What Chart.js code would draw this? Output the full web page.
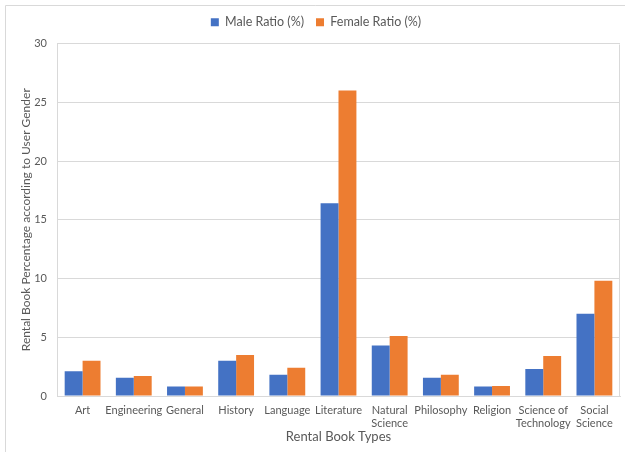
<!DOCTYPE html>
<html>
<head>
<meta charset="utf-8">
<script src="https://cdn.jsdelivr.net/npm/chart.js@4/dist/chart.umd.min.js"></script>
<style>
  html, body { margin: 0; padding: 0; background: #ffffff; }
  #wrap { width: 625px; height: 456px; position: relative; }
</style>
</head>
<body>
<div id="wrap"><canvas id="chart" width="625" height="456"></canvas></div>
<script>
// Book categories (multi-line labels wrap under the axis)
const categories = [
  'Art', 'Engineering', 'General', 'History', 'Language', 'Literature',
  ['Natural', 'Science'], 'Philosophy', 'Religion',
  ['Science of', 'Technology'], ['Social', 'Science']
];

// Share of rentals per category, by user gender (%)
const maleRatio   = [2.1, 1.55, 0.8, 3.0, 1.8, 16.4, 4.3, 1.55, 0.8, 2.3, 7.0];
const femaleRatio = [3.0, 1.7, 0.8, 3.5, 2.4, 26.0, 5.1, 1.8, 0.85, 3.4, 9.8];

// Value axis ticks
const yTicks = [0, 5, 10, 15, 20, 25, 30];

const FONT = 'Lato, "Open Sans", "Liberation Sans", sans-serif';
const TEXT = '#595959';
const GRID = '#d9d9d9';

// Frame lines: outer chart border and the right edge of the plot box
const framePlugin = {
  id: 'frame',
  beforeInit(chart) {
    // leave a little more room between the legend and the plot
    const legend = chart.legend;
    if (legend) {
      const fit = legend.fit;
      legend.fit = function () {
        fit.call(this);
        this.height += 5;
      };
    }
  },
  beforeDraw(chart) {
    const ctx = chart.ctx;
    ctx.save();
    ctx.strokeStyle = GRID;
    ctx.lineWidth = 1;
    ctx.beginPath();
    ctx.moveTo(5.5, 452);
    ctx.lineTo(5.5, 5.5);
    ctx.lineTo(625, 5.5);
    ctx.stroke();
    ctx.restore();
  },
  afterDatasetsDraw(chart) {
    const ctx = chart.ctx;
    const a = chart.chartArea;
    ctx.save();
    ctx.strokeStyle = GRID;
    ctx.lineWidth = 1;
    ctx.beginPath();
    ctx.moveTo(Math.round(a.right) - 0.5, Math.round(a.bottom));
    ctx.lineTo(Math.round(a.right) - 0.5, Math.round(a.top) + 0.5);
    ctx.stroke();
    ctx.restore();
  }
};

new Chart(document.getElementById('chart'), {
  type: 'bar',
  data: {
    labels: categories,
    datasets: [
      { label: 'Male Ratio (%)', data: maleRatio, backgroundColor: '#4472c4', borderWidth: 0 },
      { label: 'Female Ratio (%)', data: femaleRatio, backgroundColor: '#ed7d31', borderWidth: 0 }
    ]
  },
  options: {
    responsive: false,
    animation: false,
    devicePixelRatio: 1,
    layout: { padding: { left: 12, right: 5, top: 4, bottom: 11 } },
    datasets: { bar: { categoryPercentage: 0.7, barPercentage: 1.0 } },
    plugins: {
      legend: {
        position: 'top',
        labels: {
          font: { family: FONT, size: 12.5 },
          color: TEXT,
          boxWidth: 8,
          boxHeight: 8,
          padding: 12
        }
      },
      tooltip: { enabled: false }
    },
    scales: {
      x: {
        afterFit(scale) { scale.height = 49; },
        grid: { display: false, drawTicks: false },
        border: { display: true, color: GRID },
        ticks: {
          font: { family: FONT, size: 11 },
          color: TEXT,
          padding: 8,
          maxRotation: 0,
          autoSkip: false
        },
        title: {
          display: true,
          text: 'Rental Book Types',
          font: { family: FONT, size: 13 },
          color: TEXT,
          padding: { top: 0, bottom: 0 }
        }
      },
      y: {
        min: 0,
        max: 30,
        afterBuildTicks(scale) {
          scale.ticks = yTicks.map(v => ({ value: v }));
        },
        afterFit(scale) { scale.width = 45; },
        grid: { color: GRID, drawTicks: false },
        border: { display: true, color: GRID },
        ticks: {
          font: { family: FONT, size: 11 },
          color: TEXT,
          padding: 10
        },
        title: {
          display: true,
          text: 'Rental Book Percentage according to User Gender',
          font: { family: FONT, size: 12 },
          color: TEXT,
          padding: { top: 7, bottom: 0 }
        }
      }
    }
  },
  plugins: [framePlugin]
});
</script>
</body>
</html>
